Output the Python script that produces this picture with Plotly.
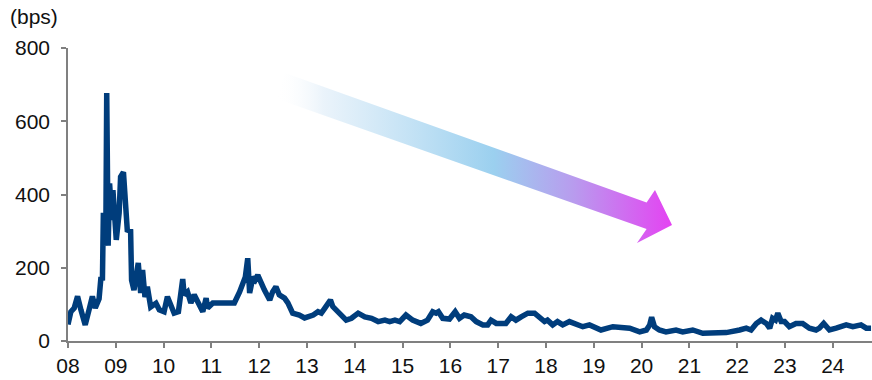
import plotly.graph_objects as go

# ---- data (decimal year, spread in bps) ----
years = [
    2008.00, 2008.06, 2008.13, 2008.20, 2008.27, 2008.36, 2008.44, 2008.51, 2008.57, 2008.65,
    2008.69, 2008.72, 2008.74, 2008.79, 2008.81, 2008.84, 2008.87, 2008.92, 2008.94, 2009.01,
    2009.07, 2009.10, 2009.16, 2009.21, 2009.24, 2009.31, 2009.33, 2009.38, 2009.47, 2009.52,
    2009.56, 2009.61, 2009.66, 2009.73, 2009.84, 2009.91,
    2010.01, 2010.08, 2010.16, 2010.22, 2010.31, 2010.36, 2010.40, 2010.43, 2010.50, 2010.57,
    2010.64, 2010.73, 2010.82, 2010.89, 2010.92, 2011.03, 2011.20, 2011.31, 2011.48, 2011.59,
    2011.66, 2011.71, 2011.76, 2011.80, 2011.87, 2011.92, 2011.97, 2012.04, 2012.11, 2012.22,
    2012.28, 2012.35, 2012.42, 2012.53, 2012.60, 2012.70, 2012.84, 2012.95,
    2013.05, 2013.13, 2013.23, 2013.30, 2013.37, 2013.49, 2013.54, 2013.68, 2013.82, 2013.93,
    2014.07, 2014.21, 2014.35, 2014.49, 2014.63, 2014.73, 2014.84, 2014.94, 2015.07, 2015.21,
    2015.38, 2015.52, 2015.63, 2015.70, 2015.75, 2015.84, 2015.98,
    2016.10, 2016.19, 2016.29, 2016.43, 2016.54, 2016.68, 2016.78, 2016.85, 2016.96, 2017.06,
    2017.16, 2017.27, 2017.37, 2017.48, 2017.62, 2017.76, 2017.87, 2017.97, 2018.03, 2018.14,
    2018.24, 2018.35, 2018.49, 2018.63, 2018.77, 2018.91,
    2019.15, 2019.40, 2019.61, 2019.75, 2019.96, 2020.10, 2020.17, 2020.21, 2020.27, 2020.37,
    2020.51, 2020.72, 2020.86, 2021.07, 2021.28, 2021.56, 2021.77,
    2022.05, 2022.19, 2022.29, 2022.40, 2022.50, 2022.61, 2022.68, 2022.74, 2022.80, 2022.85,
    2022.92, 2022.99, 2023.09, 2023.23, 2023.37, 2023.51, 2023.65, 2023.72, 2023.81, 2023.93,
    2024.07, 2024.28, 2024.42, 2024.59, 2024.70, 2024.80,
]
spread_bps = [
    45, 80, 90, 122, 85, 44, 85, 122, 90, 115,
    175, 165, 350, 260, 677, 260, 430, 330, 412, 276,
    350, 448, 461, 366, 303, 300, 166, 139, 213, 131,
    194, 120, 148, 93, 103, 85,
    80, 121, 98, 76, 80, 131, 169, 126, 134, 104,
    126, 103, 80, 117, 90, 104, 104, 104, 104, 134,
    158, 175, 226, 131, 175, 167, 180, 158, 139, 112,
    134, 148, 126, 117, 104, 76, 71, 63,
    66, 71, 80, 76, 89, 112, 94, 76, 57, 62,
    76, 66, 62, 53, 57, 53, 57, 53, 71, 57,
    48, 57, 80, 76, 80, 62, 60,
    80, 62, 71, 66, 53, 44, 44, 57, 48, 48,
    48, 66, 57, 66, 76, 76, 66, 53, 57, 44,
    53, 44, 53, 44, 39, 44,
    30, 39, 35, 35, 25, 30, 44, 65, 39, 30,
    25, 30, 25, 30, 21, 21, 23,
    30, 35, 30, 48, 57, 48, 35, 62, 57, 76,
    53, 53, 39, 48, 48, 35, 30, 35, 48, 30,
    35, 44, 39, 44, 35, 35,
]

tick_years = list(range(2008, 2025))
tick_labels = [f"{y % 100:02d}" for y in tick_years]
y_ticks = [0, 200, 400, 600, 800]
y_unit = "(bps)"

# decorative trend arrow (pixel space of the plot area)
arrow_x = [285.0, 646.6, 655.0, 672.0, 637.0, 646.6, 276.0]
arrow_y = [73.0, 202.5, 190.0, 225.0, 243.0, 229.0, 98.5]

FONT = "Arial, 'Liberation Sans', sans-serif"
LINE = "#003d7c"
AX = "#808080"
FS = 21

fig = go.Figure()

fig.add_trace(go.Scatter(
    x=arrow_x, y=arrow_y, mode="lines", fill="toself",
    line=dict(width=0, color="rgba(0,0,0,0)"),
    fillgradient=dict(
        type="horizontal",
        colorscale=[
            [0.0, "rgba(255,255,255,0)"],
            [0.12, "rgba(232,242,250,0.9)"],
            [0.55, "#9bd0ef"],
            [0.75, "#b89cee"],
            [1.0, "#e443f2"],
        ],
    ),
    xaxis="x2", yaxis="y2", hoverinfo="skip", showlegend=False,
))

fig.add_trace(go.Scatter(
    x=years, y=spread_bps, mode="lines",
    line=dict(color=LINE, width=5.5, shape="linear"),
    showlegend=False, hoverinfo="skip",
))

fig.update_layout(
    width=872, height=380,
    margin=dict(l=68, r=0, t=48, b=39),
    paper_bgcolor="white", plot_bgcolor="white",
    font=dict(family=FONT, size=FS, color="#111111"),
    xaxis=dict(
        range=[2008, 2024.82], tickvals=tick_years, ticktext=tick_labels,
        showgrid=False, zeroline=False, showline=True, linecolor=AX, linewidth=1.5,
        ticks="outside", ticklen=5, tickcolor=AX, tickwidth=1.5,
        tickfont=dict(size=FS, family=FONT, color="#111111"),
    ),
    yaxis=dict(
        range=[0, 800], tickvals=y_ticks,
        showgrid=False, zeroline=False, showline=True, linecolor=AX, linewidth=1.5,
        ticks="outside", ticklen=5, tickcolor=AX, tickwidth=1.5,
        ticklabelstandoff=7,
        tickfont=dict(size=FS, family=FONT, color="#111111"),
    ),
    xaxis2=dict(range=[68, 872], overlaying="x", visible=False, fixedrange=True),
    yaxis2=dict(range=[341, 48], overlaying="y", visible=False, fixedrange=True),
    annotations=[dict(
        text=y_unit, xref="paper", yref="paper",
        x=(8 - 68) / 804, y=1 + (48 - 17) / 293,
        xanchor="left", yanchor="middle",
        showarrow=False, font=dict(size=FS, family=FONT, color="#111111"),
    )],
)

fig.write_html("out.html")
